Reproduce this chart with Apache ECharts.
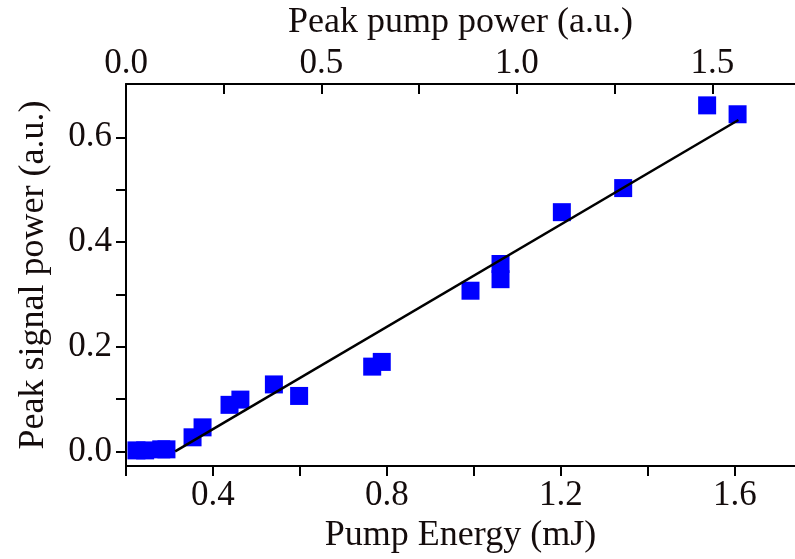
<!DOCTYPE html>
<html>
<head>
<meta charset="utf-8">
<script src="https://cdn.jsdelivr.net/npm/echarts@6/dist/echarts.min.js"></script>
<style>
  html, body { margin: 0; padding: 0; background: #fff; }
  #chart { width: 795px; height: 559px; }
</style>
</head>
<body>
<div id="chart"></div>
<script>
// measured points: pump energy (mJ) vs peak signal power (a.u.)
const energy = [0.224, 0.244, 0.281, 0.293, 0.353, 0.376, 0.438, 0.463, 0.540, 0.598,
                0.766, 0.788, 0.992, 1.061, 1.061, 1.202, 1.343, 1.536, 1.606]
const signal = [0.002, 0.002, 0.004, 0.004, 0.027, 0.046, 0.089, 0.099, 0.128, 0.106,
                0.162, 0.171, 0.307, 0.358, 0.329, 0.457, 0.503, 0.661, 0.644]

// linear fit line
const fitEnergy = [0.313, 1.608]
const fitSignal = [0.0, 0.633]

// tick labels
const energyLabels = [0.4, 0.8, 1.2, 1.6]
const pumpLabels = [0.0, 0.5, 1.0, 1.5]
const signalLabels = [0, 0.2, 0.4, 0.6]
const signalTicks = [0, 0.1, 0.2, 0.3, 0.4, 0.5, 0.6]

const font = '"Liberation Serif", "Times New Roman", serif'
const ink = '#140c0c'

const myChart = echarts.init(document.getElementById('chart'))

const option = {
  animation: false,
  grid: { left: 126, right: 0, top: 83, bottom: 82, containLabel: false },
  xAxis: [
    {
      type: 'value',
      position: 'bottom',
      min: 0.2,
      max: 1.738,
      interval: 0.2,
      name: 'Pump Energy (mJ)',
      nameLocation: 'middle',
      nameGap: 44,
      nameTextStyle: { fontFamily: font, fontSize: 36, color: ink },
      axisLine: { onZero: false, lineStyle: { color: '#000', width: 2 } },
      axisTick: { inside: false, length: 10, lineStyle: { color: '#000', width: 2 } },
      axisLabel: {
        margin: 12,
        fontFamily: font,
        fontSize: 35,
        color: ink,
        showMaxLabel: false,
        formatter: (v) => energyLabels.some((e) => Math.abs(e - v) < 1e-6) ? v.toFixed(1) : ''
      },
      splitLine: { show: false }
    },
    {
      type: 'value',
      position: 'top',
      min: 0,
      max: 1.711,
      interval: 0.25,
      name: 'Peak pump power (a.u.)',
      nameLocation: 'middle',
      nameGap: 36,
      nameTextStyle: { fontFamily: font, fontSize: 36, color: ink },
      axisLine: { onZero: false, lineStyle: { color: '#000', width: 2 } },
      axisTick: { inside: true, length: 10, lineStyle: { color: '#000', width: 2 } },
      axisLabel: {
        margin: 3,
        fontFamily: font,
        fontSize: 35,
        color: ink,
        showMaxLabel: false,
        formatter: (v) => pumpLabels.some((e) => Math.abs(e - v) < 1e-6) ? v.toFixed(1) : ''
      },
      splitLine: { show: false }
    }
  ],
  yAxis: {
    type: 'value',
    min: -0.028,
    max: 0.702,
    name: 'Peak signal power (a.u.)',
    nameLocation: 'middle',
    nameGap: 74,
    nameTextStyle: { fontFamily: font, fontSize: 36, color: ink },
    axisLine: { show: true, onZero: false, lineStyle: { color: '#000', width: 2 } },
    axisTick: {
      show: true,
      length: 10,
      customValues: signalTicks,
      lineStyle: { color: '#000', width: 2 }
    },
    axisLabel: {
      margin: 14,
      fontFamily: font,
      fontSize: 35,
      color: ink,
      customValues: signalLabels,
      formatter: (v) => v.toFixed(1)
    },
    splitLine: { show: false }
  },
  series: [
    {
      name: 'data',
      type: 'scatter',
      symbol: 'rect',
      symbolSize: 18,
      itemStyle: { color: '#0000ff', opacity: 1 },
      data: energy.map((e, i) => [e, signal[i]]),
      z: 2
    },
    {
      name: 'fit',
      type: 'line',
      symbol: 'none',
      lineStyle: { color: '#000', width: 2.5 },
      data: fitEnergy.map((e, i) => [e, fitSignal[i]]),
      z: 3
    }
  ]
}

myChart.setOption(option)

window.addEventListener('resize', () => {
  myChart.resize()
})
</script>
</body>
</html>
